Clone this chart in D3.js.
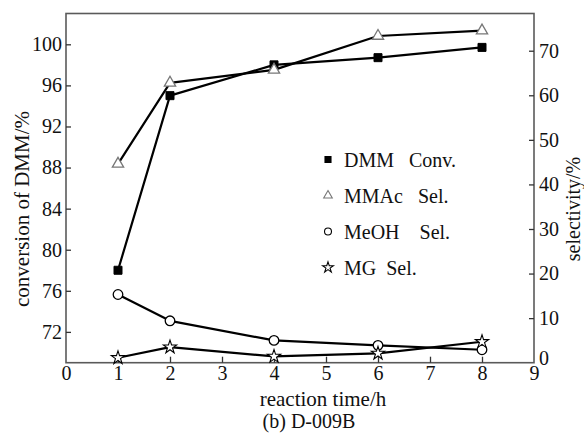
<!DOCTYPE html>
<html>
<head>
<meta charset="utf-8">
<script src="https://cdn.jsdelivr.net/npm/d3@7"></script>
<style>
  html, body { margin: 0; padding: 0; background: #fff; }
  svg { display: block; }
  text { font-family: "Liberation Serif", "Times New Roman", serif; fill: #111; }
</style>
</head>
<body>
<svg id="chart" width="584" height="433"></svg>
<script>
// ---- data ----
const times = [1, 2, 4, 6, 8];
const dmmConv = [78.0, 95.0, 98.0, 98.7, 99.7];     // left axis, %
const mmacSel = [44.6, 62.8, 65.7, 73.3, 74.5];     // right axis, %
const meohSel = [15.3, 9.4, 5.0, 3.9, 2.9];         // right axis, %
const mgSel   = [1.1, 3.5, 1.4, 2.1, 4.7];          // right axis, %
const xTicks = [0, 1, 2, 3, 4, 5, 6, 7, 8, 9];
const leftTicks = [72, 76, 80, 84, 88, 92, 96, 100];
const rightTicks = [0, 10, 20, 30, 40, 50, 60, 70];
const legendLabels = ["DMM   Conv.", "MMAc   Sel.", "MeOH    Sel.", "MG  Sel."];
const xTitle = "reaction time/h";
const leftTitle = "conversion of DMM/%";
const rightTitle = "selectivity/%";
const caption = "(b) D-009B";

// ---- layout ----
const svg = d3.select("#chart");
const L = 66, R = 534, T = 13.5, B = 362.7;
const x = d3.scaleLinear().domain([0, 9]).range([L, R]);
const yL = d3.scaleLinear().domain([69, 103]).range([B, T]);
const yR = d3.scaleLinear().domain([0, 78.35]).range([B, T]);
const frameColor = "#5a5a5a";
const fs = 20;

// frame
svg.append("rect").attr("x", L).attr("y", T).attr("width", R - L).attr("height", B - T)
  .attr("fill", "none").attr("stroke", frameColor).attr("stroke-width", 1.6);

function styleAxis(g) {
  g.select(".domain").remove();
  g.selectAll(".tick line").attr("stroke", "#333").attr("stroke-width", 1.3);
  g.selectAll(".tick text").attr("font-size", fs).attr("font-family", "Liberation Serif").attr("fill", "#111");
}

svg.append("g").attr("transform", `translate(${L},0)`)
  .call(d3.axisLeft(yL).tickValues(leftTicks).tickSize(-5).tickPadding(4).tickFormat(d3.format("d")))
  .call(styleAxis);

svg.append("g").attr("transform", `translate(${R},0)`)
  .call(d3.axisRight(yR).tickValues(rightTicks).tickSize(-5).tickPadding(5).tickFormat(d3.format("d")))
  .call(styleAxis)
  .call(g => g.selectAll(".tick").filter(d => d === 0).select("line").remove())
  .call(g => g.selectAll(".tick").filter(d => d === 0).select("text").attr("dy", "0.1em"));

svg.append("g").attr("transform", `translate(0,${B})`)
  .call(d3.axisBottom(x).tickValues(xTicks).tickSize(-6).tickPadding(3).tickFormat(d3.format("d")))
  .call(styleAxis)
  .call(g => g.selectAll(".tick").filter(d => d === 0 || d === 9).select("line").remove());

// titles
svg.append("text").attr("x", 323).attr("y", 406).attr("text-anchor", "middle")
  .attr("font-size", 21).text(xTitle);
svg.append("text").attr("x", 309).attr("y", 428).attr("text-anchor", "middle")
  .attr("font-size", fs).text(caption);
svg.append("text").attr("transform", "translate(29,209) rotate(-90)").attr("text-anchor", "middle")
  .attr("font-size", 21).text(leftTitle);
svg.append("text").attr("transform", "translate(580,209) rotate(-90)").attr("text-anchor", "middle")
  .attr("font-size", fs).text(rightTitle);

// series
const series = [
  { vals: dmmConv, y: yL, sym: d3.symbolSquare, size: 64, fill: "#000", stroke: "#000", sw: 1 },
  { vals: mmacSel, y: yR, sym: d3.symbolTriangle, size: 55, fill: "#fff", stroke: "#777", sw: 1.3 },
  { vals: meohSel, y: yR, sym: d3.symbolCircle, size: 72, fill: "#fff", stroke: "#000", sw: 1.3 },
  { vals: mgSel,   y: yR, sym: d3.symbolStar, size: 55, fill: "#fff", stroke: "#000", sw: 1.1 }
];

const line = (ys) => d3.line().x((d, i) => x(times[i])).y(d => ys(d));

series.forEach(s => {
  svg.append("path").attr("d", line(s.y)(s.vals)).attr("fill", "none")
    .attr("stroke", "#000").attr("stroke-width", 2.2).attr("stroke-linejoin", "round");
});
series.forEach(s => {
  svg.append("g").selectAll("path").data(s.vals).join("path")
    .attr("transform", (d, i) => `translate(${x(times[i])},${s.y(d)})`)
    .attr("d", d3.symbol().type(s.sym).size(s.size))
    .attr("fill", s.fill).attr("stroke", s.stroke).attr("stroke-width", s.sw);
});

// legend
const legY0 = 159.5, legDy = 36;
const legSizes = [36, 32, 38, 36];
const lg = svg.append("g");
series.forEach((s, i) => {
  const cy = legY0 + i * legDy;
  lg.append("path").attr("transform", `translate(328,${cy})`)
    .attr("d", d3.symbol().type(s.sym).size(legSizes[i]))
    .attr("fill", s.fill).attr("stroke", s.stroke).attr("stroke-width", 1.1);
  lg.append("text").attr("x", 344).attr("y", cy + 7).attr("font-size", fs)
    .style("white-space", "pre").text(legendLabels[i]);
});
</script>
</body>
</html>
